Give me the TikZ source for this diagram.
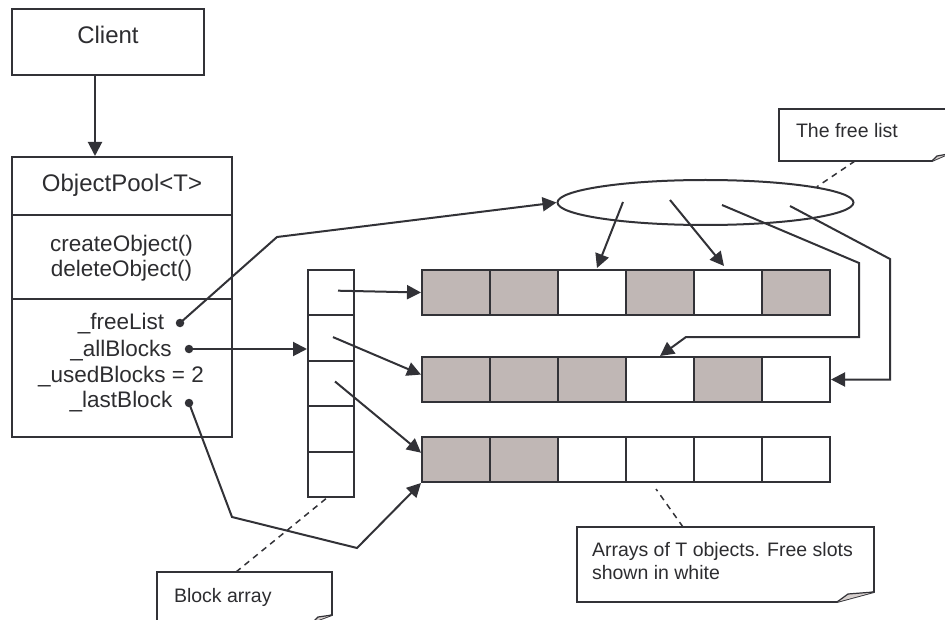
\documentclass[tikz,border=0pt]{standalone}
\usepackage{fontspec}
\setmainfont{Liberation Sans}
\usetikzlibrary{shapes.geometric,arrows.meta,calc}
\definecolor{ink}{RGB}{50,50,55}
\definecolor{txt}{RGB}{45,45,48}
\definecolor{cG}{RGB}{192,183,181}
\definecolor{cW}{RGB}{255,255,255}
\definecolor{foldgray}{RGB}{214,207,205}
\tikzset{
  box/.style={draw=ink, rectangle, inner sep=0pt},
  cell/.style={draw=ink, rectangle, inner sep=0pt, minimum width=68, minimum height=45},
  bcell/.style={draw=ink, rectangle, inner sep=0pt, minimum width=46, minimum height=45.4},
  title/.style={text=txt, inner sep=0pt, anchor=base, font=\fontsize{24}{28}\selectfont},
  member/.style={text=txt, inner sep=0pt, anchor=base, font=\fontsize{22.5}{26}\selectfont},
  notetext/.style={text=txt, inner sep=0pt, font=\fontsize{19.5}{22.8}\selectfont, align=left},
  dot/.style={circle, fill=ink, inner sep=0pt, minimum size=8.5},
  arr/.style={draw=ink, -{Triangle[length=14pt,width=14pt]}},
  conn/.style={draw=ink},
  notedash/.style={draw=ink, dash pattern=on 6pt off 5pt, line width=1.5pt},
  noteshape/.style={draw=ink, fill=white, line width=1.8pt},
  fold/.style={draw=ink, fill=foldgray, line width=1.2pt}
}
\begin{document}
\begin{tikzpicture}[x=1pt, y=-1pt, line width=2pt]
\useasboundingbox (0,0) rectangle (945,620);

% Client
\node[box, minimum width=192, minimum height=66] (client) at (108,42) {};
\node[title] (clientT) at (108,43.3) {Client};

% ObjectPool
\node[box, minimum width=220, minimum height=280] (pool) at (122,297) {};
\coordinate (div1) at (0,215);
\coordinate (div2) at (0,299);
\draw[conn] (pool.west |- div1) -- (pool.east |- div1);
\draw[conn] (pool.west |- div2) -- (pool.east |- div2);
\node[title] (poolT) at (122,192) {ObjectPool<T>};
\node[member] (mCreate) at (121.5,252) {createObject()};
\node[member] (mDelete) at (121.5,277) {deleteObject()};
\node[member] (aFree) at (121,330) {\_freeList};
\node[member] (aAll) at (121,356) {\_allBlocks};
\node[member] (aUsed) at (121,382) {\_usedBlocks = 2};
\node[member] (aLast) at (121,407.5) {\_lastBlock};
\node[dot] (dfree) at (180,323) {};
\node[dot] (dall) at (189,349) {};
\node[dot] (dlast) at (189,403) {};

\draw[arr] ($(client.south)+(-13,0)$) -- ($(pool.north)+(-27,0)$);

% Block array
\foreach \i in {1,...,5}
  \node[bcell] (bc\i) at (331,{270+45.4*(\i-0.5)}) {};

% Arrays of T objects
\foreach \c [count=\i] in {cG,cG,cW,cG,cW,cG}
  \node[cell, fill=\c] (r1c\i) at ({456+68*(\i-1)},292.5) {};
\foreach \c [count=\i] in {cG,cG,cG,cW,cG,cW}
  \node[cell, fill=\c] (r2c\i) at ({456+68*(\i-1)},379.5) {};
\foreach \c [count=\i] in {cG,cG,cW,cW,cW,cW}
  \node[cell, fill=\c] (r3c\i) at ({456+68*(\i-1)},459.5) {};

% free list ellipse
\node[draw=ink, ellipse, minimum width=296, minimum height=45, inner sep=0pt] (fl) at (705.5,202.5) {};
\coordinate (fl1) at (623,202);
\coordinate (fl2) at (670,200);
\coordinate (fl3) at (722,205);
\coordinate (fl4) at (790,206);

% connectors from ObjectPool members
\draw[arr] (dfree.center) -- (277,237) -- (fl.west);
\draw[arr] (dall.center) -- (dall -| bc2.west);
\draw[arr] (dlast.center) -- (232,517) -- (357,548) -- (r3c1.south west);

% block array pointers
\draw[arr] ($(bc1)+(7,-2)$) -- (r1c1.west);
\draw[arr] ($(bc2)+(2,-1)$) -- (r2c1.172.5);
\draw[arr] ($(bc3)+(4,-2)$) -- (r3c1.169);

% free list pointers
\draw[arr] (fl1) -- ($(r1c3.north)+(5,-1)$);
\draw[arr] (fl2) -- ($(r1c5.north)+(-4,-3)$);
\draw[arr] (fl3) -- (859,263) -- (859,337) -- (686,337) -- (r2c4.north);
\draw[arr] (fl4) -- (890,259) |- (r2c6.east);

% Note: The free list
\draw[noteshape] (779,109) -- (948,109) -- (948,154) -- (932,161) -- (779,161) -- cycle;
\draw[fold] (932,161) -- (937,156) -- (948,154);
\node[notetext, anchor=base west] (noteFL) at (795,138) {The free list};
\coordinate (nFLa) at (855,161);
\draw[notedash] (nFLa) -- (fl.8);

% Note: Block array
\draw[noteshape] (157,572) -- (332,572) -- (332,615) -- (313,622) -- (157,622) -- cycle;
\draw[fold] (313,622) -- (318,617) -- (332,615);
\node[notetext, anchor=base west] (noteBA) at (173,602) {Block array};
\coordinate (nBAa) at (236,572);
\draw[notedash] (nBAa) -- ($(bc5.south)+(-3,-1)$);

% Note: Arrays of T objects
\draw[noteshape] (577,527) -- (874,527) -- (874,592) -- (837,602) -- (577,602) -- cycle;
\draw[fold] (837,602) -- (848,594) -- (874,592);
\node[notetext, anchor=north west] (noteAR) at (591,541.5) {Arrays of T objects. Free slots\\shown in white};
\coordinate (nARa) at (683,527);
\draw[notedash] (nARa) -- ($(r3c4.south)+(-4,6)$);
\end{tikzpicture}
\end{document}
